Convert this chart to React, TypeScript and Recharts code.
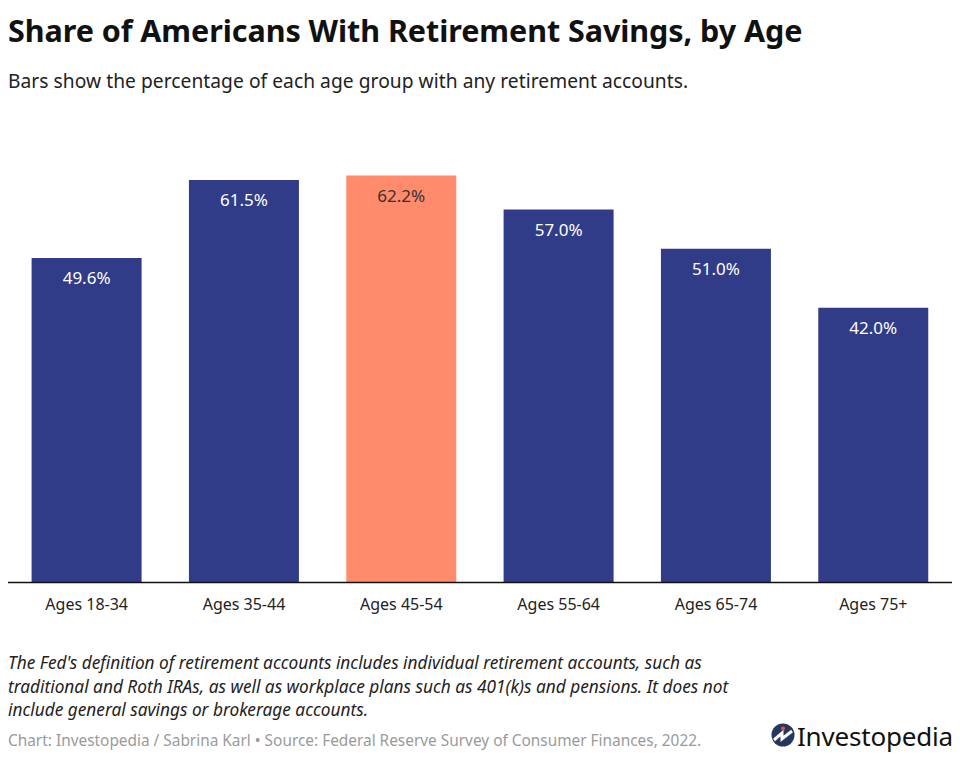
import { BarChart, Bar, Cell, XAxis, YAxis, LabelList } from "recharts";

const ageGroups = ["Ages 18-34", "Ages 35-44", "Ages 45-54", "Ages 55-64", "Ages 65-74", "Ages 75+"];
const shares = [49.6, 61.5, 62.2, 57.0, 51.0, 42.0];
const highlighted = "Ages 45-54";

const noteLines = [
  "The Fed's definition of retirement accounts includes individual retirement accounts, such as",
  "traditional and Roth IRAs, as well as workplace plans such as 401(k)s and pensions. It does not",
  "include general savings or brokerage accounts.",
];

const data = ageGroups.map((age, i) => ({ age, share: shares[i] }));

const font = "'Noto Sans', sans-serif";
const navy = "#313c88";
const coral = "#ff8a6c";

const textAt = (top: number, size: number, color: string, extra = {}) => ({
  position: "absolute" as const,
  left: 8,
  top,
  fontFamily: font,
  fontSize: size,
  color,
  lineHeight: 1,
  whiteSpace: "nowrap" as const,
  ...extra,
});

function ValueLabel(props: any) {
  const { x, y, width, value, index } = props;
  const isHighlight = ageGroups[index] === highlighted;
  return (
    <text
      x={x + width / 2}
      y={y + 26}
      textAnchor="middle"
      fontFamily={font}
      fontSize={17}
      fill={isHighlight ? "#333333" : "#ffffff"}
    >
      {value.toFixed(1)}%
    </text>
  );
}

export default function App() {
  return (
    <div style={{ position: "absolute", left: 0, top: 0, width: 960, height: 759, background: "#fff", overflow: "hidden" }}>
      <div style={textAt(15, 30.5, "#111111", { fontWeight: 700, letterSpacing: -0.06 })}>
        Share of Americans With Retirement Savings, by Age
      </div>
      <div style={textAt(71, 19.2, "#222222", { letterSpacing: 0.05 })}>
        Bars show the percentage of each age group with any retirement accounts.
      </div>

      <div style={{ position: "absolute", left: 0, top: 0 }}>
        <BarChart
          width={960}
          height={759}
          data={data}
          barCategoryGap="15%"
          margin={{ top: 124.5, right: 8, bottom: 136.5, left: 8 }}
        >
          <XAxis
            dataKey="age"
            height={40}
            interval={0}
            tickLine={false}
            axisLine={{ stroke: "#111111", strokeWidth: 1.5 }}
            tickMargin={10}
            tick={{ fontFamily: font, fontSize: 16, fill: "#222222" }}
          />
          <YAxis hide domain={[0, 70]} />
          <Bar dataKey="share" isAnimationActive={false}>
            {data.map((d) => (
              <Cell key={d.age} fill={d.age === highlighted ? coral : navy} />
            ))}
            <LabelList dataKey="share" content={ValueLabel} />
          </Bar>
        </BarChart>
      </div>

      {noteLines.map((line, i) => (
        <div key={i} style={textAt(654 + i * 23.5, 17.25, "#222222", { fontStyle: "italic" })}>
          {line}
        </div>
      ))}
      <div style={textAt(733, 15.4, "#9a9a9a")}>
        Chart: Investopedia / Sabrina Karl • Source: Federal Reserve Survey of Consumer Finances, 2022.
      </div>

      <svg style={{ position: "absolute", left: 771, top: 722 }} width={26} height={26}>
        <circle cx={12} cy={13} r={11.5} fill="#26365f" />
        <path d="M3 18 L11 11 L11 17 L21 9" stroke="#fff" strokeWidth={3} fill="none" />
        <circle cx={12} cy={6.5} r={2} fill="#e8532b" />
      </svg>
      <div style={textAt(723, 26, "#111111", { left: 797, letterSpacing: -0.2 })}>Investopedia</div>
    </div>
  );
}
